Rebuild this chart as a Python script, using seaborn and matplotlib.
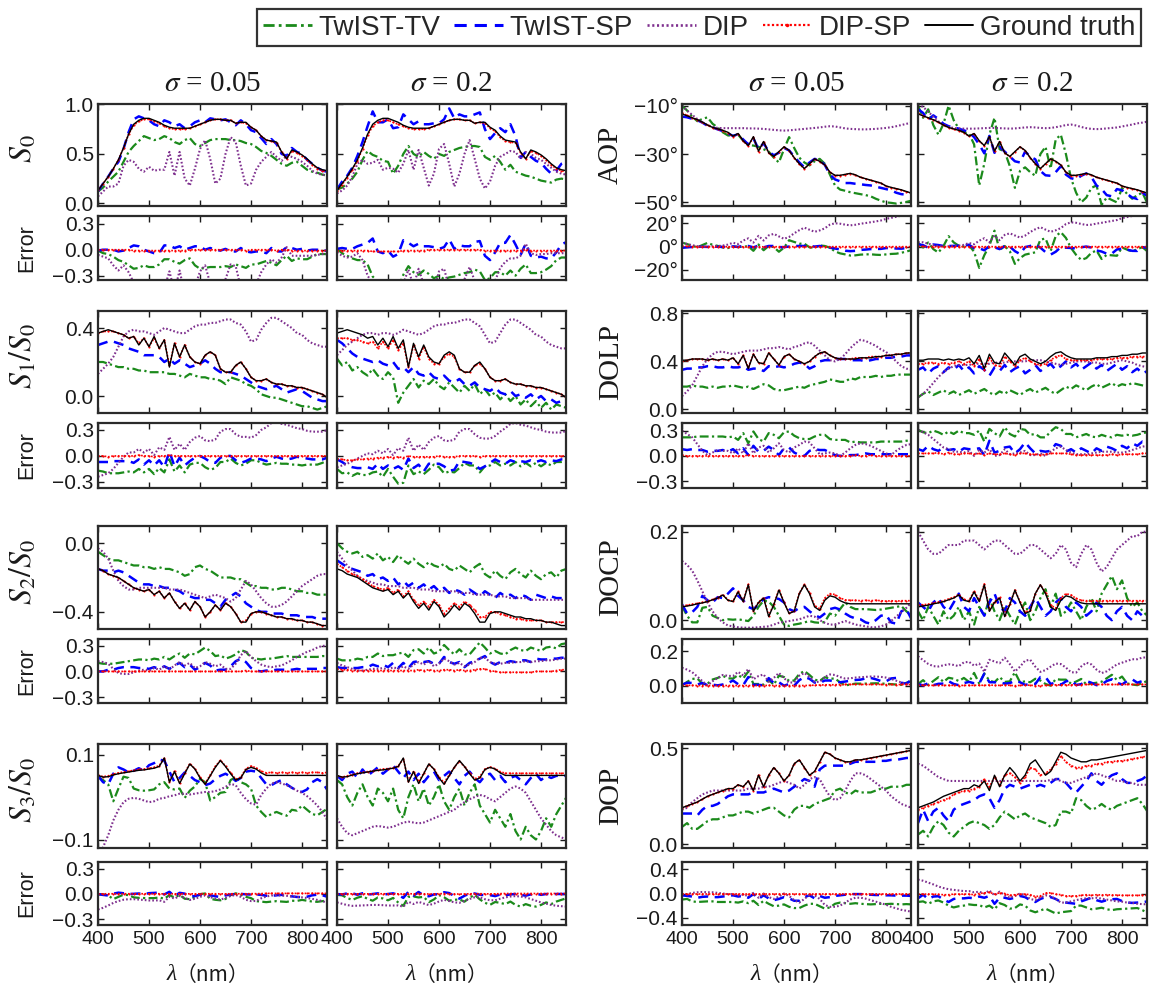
import numpy as np
import pandas as pd
import matplotlib
matplotlib.use("Agg")
import matplotlib.pyplot as plt
import seaborn as sns
from matplotlib.lines import Line2D
from matplotlib.ticker import FixedLocator, FuncFormatter, NullFormatter

sns.set_theme(style="white")
plt.rcParams["font.family"] = ["Liberation Sans", "Noto Sans CJK SC", "DejaVu Sans"]
plt.rcParams["mathtext.fontset"] = "stix"
plt.rcParams["axes.unicode_minus"] = True

# ---------------- data ----------------
wavelength = list(range(400, 851, 10))
methods = ["TwIST-TV", "TwIST-SP", "DIP", "DIP-SP", "Ground truth"]
sigma_labels = ["0.05", "0.2"]

gt_s0 = [0.13,0.20,0.27,0.35,0.44,0.56,0.70,0.80,0.84,0.86,
         0.86,0.84,0.82,0.79,0.77,0.76,0.76,0.76,0.76,0.78,
         0.80,0.82,0.84,0.85,0.85,0.84,0.84,0.81,0.82,0.82,
         0.77,0.74,0.68,0.64,0.63,0.62,0.52,0.45,0.54,0.52,
         0.49,0.45,0.40,0.36,0.34,0.33]
tv_s0_005 = [0.12,0.16,0.22,0.27,0.32,0.42,0.52,0.58,0.63,0.68,
             0.66,0.64,0.65,0.68,0.66,0.62,0.60,0.64,0.66,0.60,
             0.58,0.61,0.64,0.65,0.65,0.65,0.64,0.64,0.63,0.61,
             0.60,0.57,0.53,0.51,0.48,0.44,0.40,0.38,0.41,0.42,
             0.38,0.34,0.32,0.31,0.29,0.28]
sp_s0_005 = [0.12,0.20,0.27,0.35,0.42,0.55,0.72,0.85,0.88,0.86,
             0.84,0.80,0.78,0.84,0.82,0.78,0.80,0.76,0.78,0.82,
             0.84,0.82,0.86,0.85,0.84,0.85,0.82,0.79,0.84,0.80,
             0.74,0.72,0.66,0.60,0.65,0.60,0.50,0.48,0.56,0.52,
             0.50,0.44,0.40,0.36,0.33,0.32]
dip_s0_005 = [0.07,0.12,0.17,0.17,0.20,0.38,0.44,0.42,0.35,0.32,
              0.37,0.33,0.34,0.34,0.52,0.28,0.52,0.25,0.18,0.35,
              0.55,0.64,0.45,0.20,0.25,0.50,0.67,0.62,0.38,0.18,
              0.20,0.34,0.42,0.47,0.52,0.47,0.43,0.48,0.47,0.45,
              0.42,0.38,0.33,0.30,0.29,0.28]
dipsp_s0_005 = [0.13,0.20,0.27,0.35,0.44,0.56,0.70,0.79,0.83,0.85,
                0.85,0.83,0.81,0.78,0.76,0.75,0.75,0.75,0.76,0.78,
                0.80,0.82,0.84,0.85,0.85,0.84,0.84,0.81,0.82,0.81,
                0.77,0.74,0.68,0.64,0.63,0.61,0.52,0.45,0.53,0.51,
                0.48,0.44,0.39,0.35,0.33,0.32]
tv_s0_02 = [0.14,0.16,0.20,0.25,0.32,0.44,0.53,0.49,0.47,0.43,
            0.42,0.30,0.38,0.50,0.58,0.50,0.47,0.52,0.48,0.45,
            0.50,0.48,0.52,0.54,0.56,0.57,0.58,0.58,0.57,0.47,
            0.44,0.48,0.42,0.34,0.39,0.32,0.30,0.28,0.27,0.25,
            0.23,0.22,0.21,0.24,0.25,0.24]
sp_s0_02 = [0.14,0.22,0.28,0.36,0.48,0.62,0.78,0.93,0.82,0.82,
            0.85,0.76,0.77,0.90,0.85,0.80,0.83,0.80,0.80,0.81,
            0.81,0.85,0.96,0.86,0.90,0.88,0.88,0.90,0.92,0.75,
            0.65,0.71,0.76,0.72,0.80,0.68,0.46,0.52,0.47,0.43,
            0.41,0.35,0.30,0.33,0.40,0.42]
dip_s0_02 = [0.10,0.13,0.18,0.27,0.40,0.44,0.40,0.41,0.44,0.34,
             0.36,0.35,0.31,0.40,0.54,0.34,0.54,0.36,0.18,0.30,
             0.55,0.60,0.40,0.17,0.30,0.50,0.64,0.45,0.25,0.15,
             0.22,0.38,0.47,0.50,0.53,0.52,0.45,0.52,0.50,0.46,
             0.44,0.40,0.36,0.32,0.30,0.29]
dipsp_s0_02 = [0.12,0.19,0.26,0.34,0.43,0.55,0.69,0.78,0.82,0.84,
               0.84,0.82,0.80,0.78,0.76,0.75,0.75,0.75,0.76,0.78,
               0.80,0.82,0.84,0.85,0.85,0.84,0.84,0.81,0.82,0.81,
               0.76,0.73,0.67,0.63,0.62,0.61,0.51,0.45,0.53,0.51,
               0.48,0.44,0.39,0.35,0.33,0.32]

gt_s1 = [0.37,0.38,0.39,0.38,0.37,0.36,0.34,0.35,0.30,0.34,
         0.29,0.35,0.28,0.33,0.17,0.31,0.23,0.30,0.23,0.20,
         0.19,0.24,0.26,0.24,0.16,0.14,0.14,0.18,0.20,0.16,
         0.11,0.09,0.09,0.10,0.08,0.07,0.07,0.06,0.06,0.05,
         0.05,0.04,0.03,0.02,0.01,-0.01]
tv_s1_005 = [0.20,0.20,0.19,0.18,0.17,0.17,0.16,0.16,0.15,0.15,
             0.14,0.14,0.14,0.14,0.13,0.13,0.12,0.11,0.13,0.12,
             0.11,0.11,0.10,0.10,0.09,0.07,0.11,0.10,0.09,0.07,
             0.06,0.04,0.01,0.00,-0.01,-0.01,-0.02,-0.03,-0.04,-0.05,
             -0.06,-0.06,-0.07,-0.08,-0.07,-0.06]
sp_s1_005 = [0.30,0.31,0.32,0.32,0.31,0.30,0.28,0.27,0.26,0.24,
             0.24,0.24,0.23,0.20,0.22,0.19,0.21,0.19,0.17,0.18,
             0.19,0.21,0.19,0.16,0.14,0.14,0.14,0.13,0.12,0.10,
             0.08,0.06,0.05,0.04,0.05,0.06,0.04,0.02,0.03,0.04,
             0.03,0.01,-0.01,-0.02,-0.03,-0.03]
dip_s1_005 = [0.13,0.16,0.19,0.23,0.29,0.35,0.38,0.39,0.38,0.38,
              0.37,0.36,0.38,0.40,0.39,0.38,0.37,0.37,0.39,0.41,
              0.42,0.42,0.43,0.43,0.44,0.45,0.45,0.43,0.42,0.38,
              0.32,0.33,0.39,0.43,0.46,0.46,0.44,0.42,0.40,0.37,
              0.36,0.33,0.31,0.30,0.29,0.29]
dipsp_s1_005 = [0.37,0.38,0.38,0.38,0.37,0.36,0.34,0.35,0.31,0.34,
                0.29,0.34,0.28,0.33,0.18,0.31,0.23,0.30,0.23,0.20,
                0.19,0.24,0.26,0.24,0.16,0.14,0.14,0.18,0.20,0.16,
                0.11,0.09,0.09,0.10,0.08,0.07,0.07,0.06,0.06,0.05,
                0.05,0.04,0.03,0.02,0.01,-0.01]
tv_s1_02 = [0.22,0.18,0.20,0.15,0.17,0.14,0.12,0.16,0.12,0.10,
            0.14,0.11,-0.04,0.02,0.06,0.10,0.05,0.09,0.07,0.10,
            0.06,0.04,0.08,0.05,0.02,0.06,0.03,0.07,0.01,0.04,
            0.00,0.02,-0.02,0.01,-0.03,0.00,-0.05,-0.02,-0.06,-0.03,
            -0.07,-0.04,-0.08,-0.05,-0.06,-0.07]
sp_s1_02 = [0.33,0.31,0.28,0.25,0.23,0.22,0.21,0.20,0.21,0.19,
            0.18,0.20,0.16,0.17,0.14,0.17,0.13,0.12,0.14,0.11,
            0.10,0.12,0.09,0.08,0.10,0.07,0.06,0.08,0.05,0.04,
            0.03,0.05,0.02,0.01,0.03,0.00,0.01,-0.01,0.01,-0.02,
            0.00,-0.03,-0.02,-0.04,-0.03,-0.05]
dip_s1_02 = [0.24,0.27,0.30,0.32,0.34,0.36,0.37,0.37,0.36,0.37,
             0.37,0.36,0.37,0.39,0.38,0.37,0.36,0.37,0.39,0.41,
             0.42,0.42,0.43,0.43,0.44,0.45,0.45,0.43,0.41,0.36,
             0.31,0.32,0.37,0.42,0.45,0.45,0.43,0.41,0.39,0.36,
             0.35,0.32,0.30,0.29,0.28,0.28]
dipsp_s1_02 = [0.34,0.34,0.34,0.33,0.33,0.32,0.31,0.32,0.28,0.32,
               0.28,0.33,0.27,0.31,0.17,0.30,0.22,0.29,0.22,0.19,
               0.19,0.23,0.25,0.23,0.16,0.14,0.14,0.18,0.19,0.16,
               0.11,0.09,0.09,0.10,0.08,0.07,0.07,0.06,0.06,0.05,
               0.05,0.04,0.03,0.02,0.01,-0.01]

gt_s2 = [-0.15,-0.16,-0.18,-0.19,-0.20,-0.22,-0.24,-0.26,-0.27,-0.28,
         -0.27,-0.30,-0.28,-0.32,-0.29,-0.34,-0.38,-0.35,-0.39,-0.34,
         -0.37,-0.43,-0.40,-0.36,-0.39,-0.35,-0.37,-0.41,-0.46,-0.46,
         -0.41,-0.40,-0.40,-0.41,-0.42,-0.43,-0.43,-0.44,-0.44,-0.45,
         -0.45,-0.46,-0.46,-0.47,-0.48,-0.48]
tv_s2_005 = [-0.05,-0.07,-0.09,-0.10,-0.10,-0.11,-0.12,-0.13,-0.13,-0.14,
             -0.14,-0.15,-0.14,-0.15,-0.15,-0.16,-0.17,-0.19,-0.18,-0.14,
             -0.13,-0.15,-0.16,-0.18,-0.20,-0.20,-0.20,-0.21,-0.21,-0.23,
             -0.25,-0.25,-0.26,-0.26,-0.27,-0.27,-0.26,-0.26,-0.27,-0.28,
             -0.28,-0.29,-0.29,-0.30,-0.30,-0.30]
sp_s2_005 = [-0.15,-0.16,-0.16,-0.17,-0.16,-0.17,-0.19,-0.21,-0.23,-0.24,
             -0.24,-0.25,-0.25,-0.26,-0.26,-0.27,-0.28,-0.30,-0.31,-0.32,
             -0.32,-0.33,-0.33,-0.35,-0.37,-0.33,-0.31,-0.29,-0.31,-0.35,
             -0.37,-0.39,-0.40,-0.40,-0.41,-0.41,-0.41,-0.42,-0.42,-0.42,
             -0.43,-0.43,-0.43,-0.44,-0.44,-0.44]
dip_s2_005 = [-0.03,-0.05,-0.09,-0.16,-0.22,-0.25,-0.27,-0.27,-0.26,-0.26,
              -0.26,-0.26,-0.26,-0.26,-0.27,-0.27,-0.27,-0.28,-0.29,-0.30,
              -0.31,-0.32,-0.31,-0.30,-0.31,-0.32,-0.34,-0.32,-0.27,-0.22,
              -0.24,-0.28,-0.32,-0.35,-0.37,-0.37,-0.36,-0.34,-0.31,-0.28,
              -0.25,-0.23,-0.21,-0.19,-0.18,-0.18]
dipsp_s2_005 = [-0.15,-0.16,-0.18,-0.19,-0.20,-0.22,-0.24,-0.26,-0.27,-0.28,
                -0.27,-0.30,-0.28,-0.32,-0.29,-0.34,-0.38,-0.35,-0.39,-0.34,
                -0.37,-0.43,-0.40,-0.36,-0.39,-0.35,-0.37,-0.41,-0.46,-0.45,
                -0.41,-0.40,-0.40,-0.41,-0.42,-0.43,-0.43,-0.44,-0.44,-0.45,
                -0.45,-0.46,-0.46,-0.47,-0.48,-0.48]
tv_s2_02 = [0.00,-0.03,-0.05,-0.06,-0.05,-0.08,-0.07,-0.09,-0.06,-0.10,
            -0.08,-0.11,-0.07,-0.10,-0.12,-0.09,-0.12,-0.14,-0.11,-0.13,
            -0.14,-0.12,-0.15,-0.16,-0.13,-0.15,-0.17,-0.14,-0.12,-0.18,
            -0.20,-0.16,-0.19,-0.21,-0.17,-0.15,-0.18,-0.20,-0.16,-0.19,
            -0.21,-0.18,-0.17,-0.20,-0.16,-0.15]
sp_s2_02 = [-0.10,-0.12,-0.14,-0.15,-0.16,-0.17,-0.19,-0.18,-0.21,-0.20,
            -0.22,-0.20,-0.24,-0.22,-0.25,-0.23,-0.26,-0.24,-0.27,-0.25,
            -0.28,-0.26,-0.29,-0.27,-0.28,-0.30,-0.27,-0.29,-0.31,-0.28,
            -0.30,-0.32,-0.29,-0.31,-0.30,-0.32,-0.30,-0.31,-0.33,-0.30,
            -0.31,-0.32,-0.31,-0.32,-0.32,-0.32]
dip_s2_02 = [-0.05,-0.09,-0.13,-0.16,-0.19,-0.21,-0.22,-0.23,-0.24,-0.24,
             -0.25,-0.25,-0.25,-0.26,-0.26,-0.26,-0.27,-0.27,-0.27,-0.28,
             -0.28,-0.28,-0.28,-0.28,-0.29,-0.29,-0.29,-0.30,-0.30,-0.30,
             -0.30,-0.31,-0.31,-0.31,-0.32,-0.32,-0.32,-0.32,-0.33,-0.33,
             -0.33,-0.33,-0.33,-0.33,-0.33,-0.33]
dipsp_s2_02 = [-0.12,-0.14,-0.16,-0.18,-0.19,-0.21,-0.23,-0.25,-0.26,-0.27,
               -0.26,-0.29,-0.27,-0.31,-0.28,-0.33,-0.36,-0.34,-0.37,-0.33,
               -0.36,-0.41,-0.38,-0.35,-0.37,-0.34,-0.36,-0.39,-0.43,-0.43,
               -0.40,-0.40,-0.41,-0.42,-0.43,-0.44,-0.44,-0.45,-0.45,-0.45,
               -0.45,-0.46,-0.46,-0.46,-0.46,-0.46]

gt_s3 = [0.051,0.047,0.048,0.052,0.055,0.057,0.059,0.061,0.063,0.064,
         0.066,0.068,0.072,0.092,0.035,0.060,0.032,0.055,0.078,0.066,
         0.045,0.030,0.050,0.070,0.086,0.072,0.055,0.040,0.045,0.065,
         0.070,0.066,0.057,0.051,0.051,0.051,0.051,0.051,0.051,0.051,
         0.051,0.051,0.051,0.051,0.051,0.051]
tv_s3_005 = [0.047,0.040,0.030,-0.010,0.020,0.048,0.045,0.020,0.016,0.015,
             0.016,0.018,0.030,0.035,0.020,0.018,0.020,-0.002,0.015,0.025,
             0.043,0.035,-0.008,0.000,0.010,0.012,0.040,0.047,0.035,0.030,
             0.020,-0.020,-0.035,-0.047,-0.040,-0.035,-0.040,-0.044,-0.030,-0.032,
             -0.020,-0.030,-0.040,-0.043,-0.035,-0.027]
sp_s3_005 = [0.050,0.035,0.030,0.055,0.070,0.065,0.058,0.062,0.068,0.062,
             0.075,0.080,0.088,0.086,0.060,0.035,0.045,0.058,0.050,0.040,
             0.035,0.028,0.032,0.042,0.050,0.055,0.048,0.038,0.045,0.060,
             0.062,0.060,0.045,0.030,0.028,0.035,0.040,0.030,0.022,0.015,
             0.012,0.018,0.035,0.042,0.035,0.016]
dip_s3_005 = [-0.135,-0.118,-0.090,-0.055,-0.030,-0.012,-0.004,-0.002,-0.004,-0.008,
              -0.012,-0.010,-0.004,-0.002,0.002,0.004,0.008,0.008,0.006,0.008,
              0.010,0.012,0.012,0.014,0.018,0.024,0.031,0.028,0.010,-0.005,
              -0.015,-0.018,0.005,0.020,0.032,0.035,0.032,0.028,0.022,0.015,
              0.010,0.002,-0.008,-0.020,-0.035,-0.055]
dipsp_s3_005 = [0.052,0.048,0.050,0.054,0.057,0.059,0.061,0.063,0.065,0.066,
                0.068,0.070,0.074,0.092,0.036,0.061,0.034,0.057,0.079,0.067,
                0.047,0.032,0.052,0.072,0.087,0.073,0.057,0.042,0.047,0.067,
                0.073,0.069,0.061,0.057,0.058,0.057,0.058,0.057,0.058,0.057,
                0.058,0.057,0.058,0.058,0.057,0.058]
tv_s3_02 = [0.040,0.030,0.000,-0.020,0.010,0.030,0.000,-0.020,0.020,0.010,
            -0.010,0.020,-0.030,-0.050,0.000,0.030,-0.010,0.020,-0.020,0.000,
            0.030,-0.010,-0.030,0.000,0.020,-0.020,0.010,0.030,-0.020,-0.040,
            -0.060,-0.030,-0.050,-0.070,-0.040,-0.080,-0.100,-0.070,-0.090,-0.100,
            -0.080,-0.050,-0.070,-0.040,-0.020,0.000]
sp_s3_02 = [0.050,0.040,0.055,0.060,0.045,0.065,0.050,0.060,0.070,0.055,
            0.065,0.075,0.060,0.045,0.060,0.040,0.055,0.035,0.050,0.060,
            0.040,0.050,0.060,0.045,0.030,0.050,0.060,0.045,0.035,0.050,
            0.055,0.040,0.050,0.035,0.045,0.050,0.040,0.030,0.045,0.055,
            0.040,0.050,0.045,0.050,0.050,0.050]
dip_s3_02 = [-0.050,-0.070,-0.085,-0.090,-0.085,-0.080,-0.075,-0.070,-0.068,-0.070,
             -0.072,-0.070,-0.065,-0.060,-0.058,-0.060,-0.062,-0.060,-0.055,-0.050,
             -0.045,-0.040,-0.035,-0.030,-0.020,-0.012,-0.005,0.000,0.005,0.002,
             -0.005,-0.010,0.000,0.010,0.020,0.025,0.020,0.010,-0.010,-0.030,
             -0.050,-0.065,-0.080,-0.090,-0.095,-0.100]
dipsp_s3_02 = [0.050,0.047,0.050,0.053,0.056,0.058,0.060,0.062,0.064,0.066,
               0.067,0.069,0.073,0.090,0.038,0.060,0.036,0.056,0.077,0.066,
               0.047,0.034,0.052,0.070,0.084,0.071,0.056,0.043,0.048,0.066,
               0.071,0.067,0.060,0.056,0.056,0.056,0.056,0.056,0.056,0.056,
               0.056,0.056,0.056,0.056,0.056,0.056]

gt_aop = [-13.4,-14.2,-15.0,-15.8,-16.8,-18.0,-19.0,-19.6,-20.2,-21.0,
          -22.6,-21.5,-24.5,-26.5,-22.8,-28.8,-24.8,-29.5,-31.0,-29.0,
          -27.0,-28.5,-31.5,-34.0,-36.0,-34.0,-32.0,-33.0,-34.5,-37.5,
          -38.8,-38.8,-38.4,-38.0,-38.6,-39.6,-40.2,-40.8,-41.4,-42.0,
          -43.2,-43.8,-44.3,-44.8,-45.5,-46.2]
tv_aop_005 = [-10.0,-12.0,-14.5,-16.4,-15.5,-14.8,-17.5,-19.0,-21.0,-22.3,
              -22.5,-22.0,-24.5,-26.3,-26.5,-27.0,-28.0,-29.0,-31.5,-33.5,
              -28.0,-23.0,-27.5,-31.5,-33.5,-34.7,-33.0,-32.0,-34.0,-38.5,
              -43.0,-44.7,-45.2,-45.8,-46.2,-46.6,-47.0,-47.5,-48.5,-49.3,
              -50.0,-50.2,-50.5,-50.2,-49.8,-49.3]
sp_aop_005 = [-14.5,-14.8,-15.4,-16.0,-17.0,-18.3,-19.0,-19.8,-20.5,-21.5,
              -22.5,-21.8,-24.0,-26.0,-23.5,-28.0,-25.5,-29.0,-30.5,-29.5,
              -27.5,-28.5,-31.0,-33.5,-35.5,-33.5,-32.0,-32.5,-34.5,-38.5,
              -40.5,-41.3,-42.0,-42.0,-42.3,-42.5,-42.8,-43.0,-43.5,-44.0,
              -44.5,-45.0,-46.0,-46.6,-46.8,-47.0]
dip_aop_005 = [-10.0,-12.0,-13.8,-15.5,-17.0,-18.0,-18.8,-19.2,-19.3,-19.3,
               -19.3,-19.3,-19.3,-19.4,-19.4,-19.5,-19.6,-19.8,-20.0,-20.2,
               -20.3,-20.2,-20.0,-19.8,-19.6,-19.4,-19.2,-19.0,-18.7,-18.5,
               -18.6,-19.0,-19.4,-19.6,-19.7,-19.8,-19.8,-19.7,-19.6,-19.4,
               -19.2,-18.9,-18.5,-18.0,-17.5,-17.0]
dipsp_aop_005 = [-13.0,-14.0,-15.0,-15.9,-16.9,-18.1,-19.1,-19.7,-20.3,-21.2,
                 -22.8,-21.6,-24.7,-26.7,-23.0,-29.0,-25.0,-29.6,-31.2,-29.1,
                 -27.2,-28.6,-31.6,-34.2,-36.1,-34.1,-32.1,-33.1,-34.6,-37.6,
                 -38.9,-38.9,-38.5,-38.1,-38.7,-39.7,-40.3,-40.9,-41.5,-42.1,
                 -43.3,-43.9,-44.4,-44.9,-45.6,-46.3]
tv_aop_02 = [-10.0,-15.0,-11.5,-18.0,-22.0,-17.5,-10.0,-16.0,-19.5,-21.0,
             -21.5,-26.0,-43.0,-34.0,-22.0,-15.0,-28.0,-29.0,-35.0,-44.0,
             -37.0,-35.5,-37.5,-39.0,-30.0,-27.0,-36.0,-24.0,-22.0,-30.0,
             -40.0,-46.0,-50.0,-48.0,-44.0,-43.0,-51.0,-48.0,-49.0,-50.0,
             -44.0,-46.5,-48.5,-47.0,-46.0,-50.5]
sp_aop_02 = [-11.4,-13.0,-16.0,-14.0,-15.5,-17.5,-18.5,-19.0,-19.5,-20.2,
             -21.0,-23.0,-26.0,-29.7,-22.5,-29.5,-27.0,-29.0,-31.0,-33.0,
             -33.5,-29.0,-31.0,-32.2,-37.0,-38.8,-39.0,-37.5,-35.0,-38.5,
             -40.0,-40.5,-39.0,-38.0,-39.5,-43.0,-44.5,-47.0,-47.5,-44.5,
             -45.0,-46.5,-48.0,-48.6,-46.0,-47.4]
dip_aop_02 = [-9.5,-10.5,-12.5,-14.5,-16.5,-18.0,-18.8,-19.2,-19.4,-19.5,
              -19.5,-19.5,-19.4,-19.3,-19.2,-19.2,-19.3,-19.4,-19.5,-19.4,
              -19.2,-19.0,-18.9,-19.0,-19.2,-19.3,-19.2,-18.9,-18.5,-18.0,
              -17.8,-18.2,-18.8,-19.3,-19.6,-19.7,-19.6,-19.4,-19.2,-19.0,
              -18.6,-18.2,-17.8,-17.3,-17.0,-16.6]
dipsp_aop_02 = [-13.2,-14.1,-15.1,-15.9,-16.9,-18.1,-19.1,-19.7,-20.3,-21.1,
                -22.7,-21.6,-24.6,-26.6,-22.9,-28.9,-24.9,-29.6,-31.1,-29.1,
                -27.1,-28.6,-31.6,-34.1,-36.1,-34.1,-32.1,-33.1,-34.6,-37.6,
                -38.9,-38.9,-38.5,-38.1,-38.7,-39.7,-40.3,-40.9,-41.5,-42.1,
                -43.3,-43.9,-44.4,-44.9,-45.6,-46.3]

gt_dolp = [0.41,0.41,0.42,0.42,0.42,0.41,0.42,0.41,0.42,0.41,
           0.43,0.38,0.45,0.34,0.46,0.39,0.38,0.47,0.42,0.37,
           0.44,0.46,0.42,0.40,0.38,0.40,0.44,0.47,0.48,0.45,
           0.43,0.42,0.42,0.42,0.42,0.43,0.43,0.43,0.44,0.44,
           0.45,0.45,0.46,0.46,0.47,0.47]
tv_dolp_005 = [0.19,0.19,0.20,0.19,0.19,0.18,0.19,0.18,0.19,0.19,
               0.20,0.19,0.18,0.19,0.17,0.19,0.21,0.20,0.17,0.16,
               0.16,0.17,0.18,0.19,0.18,0.20,0.21,0.22,0.23,0.25,
               0.24,0.23,0.23,0.26,0.25,0.27,0.27,0.27,0.28,0.27,
               0.28,0.28,0.29,0.29,0.29,0.29]
sp_dolp_005 = [0.33,0.34,0.34,0.35,0.35,0.36,0.36,0.35,0.35,0.36,
               0.35,0.35,0.36,0.33,0.34,0.34,0.32,0.36,0.35,0.36,
               0.35,0.36,0.38,0.39,0.38,0.34,0.36,0.40,0.41,0.41,
               0.42,0.42,0.42,0.41,0.41,0.41,0.40,0.41,0.42,0.42,
               0.43,0.43,0.44,0.44,0.45,0.45]
dip_dolp_005 = [0.11,0.15,0.20,0.28,0.36,0.42,0.46,0.48,0.48,0.47,
                0.46,0.47,0.48,0.49,0.49,0.49,0.50,0.51,0.51,0.52,
                0.51,0.50,0.52,0.53,0.55,0.56,0.53,0.49,0.45,0.41,
                0.40,0.42,0.46,0.51,0.55,0.58,0.57,0.55,0.53,0.50,
                0.48,0.44,0.40,0.36,0.34,0.33]
dipsp_dolp_005 = [0.40,0.41,0.42,0.42,0.42,0.41,0.42,0.41,0.42,0.41,
                  0.43,0.38,0.45,0.35,0.46,0.39,0.38,0.47,0.42,0.37,
                  0.44,0.46,0.42,0.40,0.38,0.40,0.44,0.47,0.48,0.45,
                  0.43,0.42,0.42,0.42,0.43,0.43,0.43,0.44,0.44,0.44,
                  0.45,0.45,0.46,0.46,0.47,0.47]
tv_dolp_02 = [0.10,0.13,0.15,0.12,0.14,0.16,0.13,0.15,0.12,0.14,
              0.16,0.13,0.15,0.17,0.14,0.12,0.15,0.13,0.16,0.14,
              0.12,0.15,0.17,0.14,0.16,0.18,0.15,0.13,0.16,0.19,
              0.17,0.20,0.18,0.16,0.19,0.21,0.18,0.20,0.22,0.19,
              0.21,0.20,0.22,0.21,0.20,0.19]
sp_dolp_02 = [0.33,0.35,0.30,0.34,0.36,0.31,0.35,0.33,0.37,0.32,
              0.35,0.30,0.36,0.33,0.28,0.35,0.32,0.37,0.31,0.34,
              0.36,0.30,0.33,0.37,0.32,0.35,0.38,0.33,0.36,0.40,
              0.35,0.38,0.33,0.36,0.39,0.34,0.37,0.32,0.35,0.38,
              0.33,0.36,0.31,0.34,0.30,0.32]
dip_dolp_02 = [0.10,0.13,0.17,0.22,0.27,0.31,0.34,0.36,0.37,0.37,
               0.37,0.38,0.38,0.38,0.38,0.39,0.39,0.39,0.40,0.40,
               0.40,0.40,0.41,0.41,0.41,0.40,0.39,0.38,0.37,0.38,
               0.39,0.40,0.40,0.40,0.39,0.39,0.38,0.38,0.39,0.40,
               0.41,0.40,0.39,0.37,0.36,0.35]
dipsp_dolp_02 = [0.38,0.38,0.39,0.39,0.38,0.39,0.38,0.39,0.40,0.38,
                 0.40,0.36,0.42,0.33,0.43,0.37,0.36,0.44,0.40,0.36,
                 0.41,0.43,0.40,0.38,0.37,0.38,0.41,0.44,0.45,0.42,
                 0.41,0.41,0.41,0.41,0.41,0.42,0.42,0.42,0.42,0.43,
                 0.43,0.43,0.44,0.44,0.44,0.44]

gt_docp = [0.030,0.032,0.034,0.037,0.039,0.042,0.046,0.050,0.057,0.045,
           0.042,0.064,0.042,0.080,0.020,0.040,0.050,0.008,0.035,0.068,
           0.040,0.015,0.020,0.060,0.080,0.060,0.030,0.022,0.045,0.055,
           0.052,0.044,0.039,0.037,0.037,0.037,0.037,0.037,0.037,0.037,
           0.037,0.037,0.037,0.037,0.037,0.037]
tv_docp_005 = [0.032,0.010,-0.005,-0.005,0.028,0.030,0.010,0.005,0.000,0.002,
               0.001,0.002,0.000,-0.002,0.010,0.030,0.044,0.042,0.030,0.010,
               -0.010,-0.013,-0.010,-0.008,-0.005,-0.002,-0.005,-0.006,-0.004,0.015,
               0.010,0.025,0.040,0.030,0.025,0.025,0.025,0.024,0.023,0.024,
               0.026,0.028,0.030,0.032,0.020,0.010]
sp_docp_005 = [0.036,0.015,0.018,0.030,0.055,0.045,0.040,0.052,0.050,0.060,
               0.072,0.055,0.045,0.030,0.025,0.035,0.048,0.052,0.050,0.048,
               0.040,0.025,0.020,0.028,0.030,0.020,0.012,0.006,0.015,0.025,
               0.028,0.024,0.015,0.008,0.004,0.002,-0.005,-0.008,0.000,0.010,
               0.012,-0.005,-0.008,0.020,0.025,0.002]
dip_docp_005 = [0.134,0.125,0.112,0.090,0.065,0.040,0.020,0.005,-0.005,-0.012,
                -0.014,-0.016,-0.017,-0.017,-0.017,-0.016,-0.015,-0.014,-0.010,-0.006,
                -0.004,-0.002,0.000,0.002,0.006,0.010,0.008,0.000,-0.006,-0.010,
                -0.010,-0.006,-0.002,-0.006,-0.010,-0.012,-0.014,-0.016,-0.016,-0.014,
                -0.010,-0.002,0.008,0.018,0.028,0.040]
dipsp_docp_005 = [0.032,0.034,0.036,0.038,0.040,0.043,0.047,0.051,0.058,0.046,
                  0.043,0.065,0.043,0.081,0.021,0.041,0.051,0.010,0.036,0.069,
                  0.041,0.016,0.021,0.061,0.081,0.062,0.033,0.026,0.050,0.060,
                  0.058,0.050,0.046,0.045,0.045,0.044,0.045,0.044,0.045,0.044,
                  0.043,0.044,0.043,0.044,0.044,0.044]
tv_docp_02 = [0.020,0.000,0.030,0.010,-0.010,0.020,0.000,0.010,0.030,0.000,
              0.020,-0.010,0.030,0.010,0.050,0.020,0.000,0.030,0.010,-0.010,
              0.020,0.040,0.000,0.020,0.050,0.070,0.030,0.060,0.010,0.020,
              0.040,0.020,0.000,0.030,0.050,0.020,0.060,0.080,0.100,0.070,
              0.090,0.050,0.030,0.040,0.020,0.010]
sp_docp_02 = [0.040,0.030,0.020,0.040,0.050,0.030,0.020,0.040,0.060,0.030,
              0.020,0.050,0.030,0.010,0.040,0.060,0.030,0.020,0.050,0.040,
              0.020,0.010,0.030,0.050,0.030,0.010,0.020,0.040,0.050,0.030,
              0.020,0.040,0.030,0.010,0.020,0.040,0.030,0.010,0.000,0.020,
              0.030,0.010,0.000,0.020,0.010,0.000]
dip_docp_02 = [0.200,0.180,0.160,0.150,0.150,0.160,0.170,0.170,0.170,0.180,
               0.180,0.180,0.170,0.160,0.170,0.180,0.180,0.170,0.160,0.150,
               0.150,0.160,0.170,0.170,0.160,0.150,0.140,0.150,0.170,0.160,
               0.130,0.120,0.150,0.170,0.160,0.130,0.110,0.120,0.140,0.160,
               0.170,0.180,0.190,0.190,0.200,0.200]
dipsp_docp_02 = [0.034,0.035,0.036,0.039,0.041,0.044,0.048,0.052,0.058,0.047,
                 0.044,0.066,0.045,0.082,0.024,0.042,0.052,0.012,0.037,0.068,
                 0.042,0.018,0.023,0.060,0.080,0.062,0.034,0.027,0.050,0.060,
                 0.057,0.049,0.045,0.044,0.044,0.044,0.044,0.044,0.044,0.044,
                 0.044,0.044,0.044,0.044,0.044,0.044]

gt_dop = [0.19,0.20,0.21,0.22,0.235,0.25,0.26,0.27,0.28,0.29,
          0.29,0.31,0.30,0.33,0.28,0.36,0.30,0.36,0.40,0.37,
          0.33,0.36,0.42,0.44,0.40,0.36,0.38,0.43,0.48,0.47,
          0.45,0.44,0.43,0.43,0.44,0.44,0.445,0.45,0.455,0.46,
          0.465,0.47,0.475,0.48,0.485,0.49]
tv_dop_005 = [0.09,0.11,0.08,0.08,0.10,0.12,0.13,0.13,0.14,0.15,
              0.15,0.16,0.17,0.17,0.16,0.17,0.18,0.19,0.19,0.17,
              0.15,0.14,0.18,0.20,0.20,0.19,0.21,0.22,0.23,0.24,
              0.28,0.29,0.27,0.26,0.28,0.27,0.27,0.27,0.28,0.29,
              0.29,0.30,0.30,0.30,0.31,0.31]
sp_dop_005 = [0.16,0.16,0.16,0.15,0.18,0.20,0.20,0.21,0.23,0.25,
              0.26,0.26,0.26,0.26,0.27,0.27,0.27,0.28,0.29,0.28,
              0.27,0.28,0.30,0.32,0.34,0.33,0.30,0.39,0.41,0.41,
              0.41,0.41,0.41,0.42,0.43,0.43,0.43,0.43,0.43,0.435,
              0.435,0.44,0.44,0.445,0.45,0.45]
dip_dop_005 = [0.18,0.19,0.22,0.24,0.26,0.27,0.28,0.28,0.28,0.28,
               0.28,0.28,0.28,0.29,0.29,0.29,0.30,0.30,0.31,0.32,
               0.33,0.32,0.31,0.29,0.31,0.34,0.35,0.34,0.29,0.25,
               0.23,0.24,0.28,0.33,0.37,0.37,0.36,0.34,0.32,0.30,
               0.28,0.25,0.23,0.21,0.20,0.19]
dipsp_dop_005 = [0.19,0.20,0.21,0.22,0.235,0.25,0.26,0.27,0.28,0.29,
                 0.29,0.31,0.30,0.33,0.28,0.36,0.30,0.36,0.40,0.37,
                 0.33,0.36,0.42,0.44,0.40,0.36,0.38,0.43,0.48,0.47,
                 0.45,0.44,0.43,0.43,0.44,0.44,0.445,0.45,0.455,0.46,
                 0.465,0.47,0.475,0.48,0.485,0.49]
tv_dop_02 = [0.05,0.07,0.04,0.09,0.12,0.10,0.06,0.04,0.07,0.09,
             0.11,0.12,0.11,0.10,0.08,0.10,0.14,0.17,0.15,0.13,
             0.15,0.16,0.14,0.13,0.12,0.11,0.09,0.10,0.17,0.17,
             0.16,0.24,0.23,0.20,0.18,0.19,0.21,0.19,0.18,0.20,
             0.21,0.22,0.23,0.24,0.21,0.17]
sp_dop_02 = [0.11,0.18,0.12,0.17,0.19,0.15,0.12,0.18,0.20,0.21,
             0.22,0.23,0.25,0.26,0.24,0.19,0.23,0.29,0.31,0.30,
             0.29,0.30,0.31,0.30,0.31,0.30,0.32,0.34,0.34,0.32,
             0.29,0.27,0.30,0.33,0.37,0.33,0.31,0.34,0.36,0.37,
             0.34,0.32,0.32,0.33,0.34,0.36]
dip_dop_02 = [0.42,0.41,0.39,0.37,0.35,0.34,0.33,0.33,0.33,0.33,
              0.33,0.33,0.33,0.33,0.33,0.33,0.33,0.33,0.33,0.33,
              0.33,0.33,0.33,0.33,0.33,0.33,0.335,0.34,0.33,0.32,
              0.32,0.33,0.34,0.35,0.36,0.37,0.36,0.35,0.34,0.33,
              0.33,0.32,0.32,0.31,0.31,0.31]
dipsp_dop_02 = [0.18,0.19,0.20,0.21,0.22,0.23,0.24,0.26,0.27,0.28,
                0.28,0.29,0.30,0.34,0.30,0.35,0.31,0.36,0.37,0.35,
                0.32,0.35,0.40,0.39,0.36,0.37,0.39,0.42,0.46,0.43,
                0.41,0.40,0.40,0.41,0.41,0.42,0.42,0.43,0.43,0.435,
                0.435,0.44,0.445,0.45,0.455,0.46]

# ---------------- organisation ----------------
series = {
    ("S0", "0.05"): [tv_s0_005, sp_s0_005, dip_s0_005, dipsp_s0_005, gt_s0],
    ("S0", "0.2"): [tv_s0_02, sp_s0_02, dip_s0_02, dipsp_s0_02, gt_s0],
    ("S1", "0.05"): [tv_s1_005, sp_s1_005, dip_s1_005, dipsp_s1_005, gt_s1],
    ("S1", "0.2"): [tv_s1_02, sp_s1_02, dip_s1_02, dipsp_s1_02, gt_s1],
    ("S2", "0.05"): [tv_s2_005, sp_s2_005, dip_s2_005, dipsp_s2_005, gt_s2],
    ("S2", "0.2"): [tv_s2_02, sp_s2_02, dip_s2_02, dipsp_s2_02, gt_s2],
    ("S3", "0.05"): [tv_s3_005, sp_s3_005, dip_s3_005, dipsp_s3_005, gt_s3],
    ("S3", "0.2"): [tv_s3_02, sp_s3_02, dip_s3_02, dipsp_s3_02, gt_s3],
    ("AOP", "0.05"): [tv_aop_005, sp_aop_005, dip_aop_005, dipsp_aop_005, gt_aop],
    ("AOP", "0.2"): [tv_aop_02, sp_aop_02, dip_aop_02, dipsp_aop_02, gt_aop],
    ("DOLP", "0.05"): [tv_dolp_005, sp_dolp_005, dip_dolp_005, dipsp_dolp_005, gt_dolp],
    ("DOLP", "0.2"): [tv_dolp_02, sp_dolp_02, dip_dolp_02, dipsp_dolp_02, gt_dolp],
    ("DOCP", "0.05"): [tv_docp_005, sp_docp_005, dip_docp_005, dipsp_docp_005, gt_docp],
    ("DOCP", "0.2"): [tv_docp_02, sp_docp_02, dip_docp_02, dipsp_docp_02, gt_docp],
    ("DOP", "0.05"): [tv_dop_005, sp_dop_005, dip_dop_005, dipsp_dop_005, gt_dop],
    ("DOP", "0.2"): [tv_dop_02, sp_dop_02, dip_dop_02, dipsp_dop_02, gt_dop],
}
for k, v in series.items():
    for arr in v:
        assert len(arr) == len(wavelength), (k, len(arr))

error_abs = {"DOLP", "DOCP"}

ylabels = {"S0": r"$S_0$", "S1": r"$S_1/S_0$", "S2": r"$S_2/S_0$", "S3": r"$S_3/S_0$",
           "AOP": "AOP", "DOLP": "DOLP", "DOCP": "DOCP", "DOP": "DOP"}
main_ylim = {"S0": (-0.027, 1.005), "S1": (-0.1, 0.5), "S2": (-0.5, 0.1), "S3": (-0.12, 0.125),
             "AOP": (-51.5, -9.3), "DOLP": (-0.03, 0.82), "DOCP": (-0.02, 0.213), "DOP": (-0.02, 0.523)}
main_yticks = {"S0": [0.0, 0.5, 1.0], "S1": [0.0, 0.4], "S2": [-0.4, 0.0], "S3": [-0.1, 0.1],
               "AOP": [-50, -30, -10], "DOLP": [0.0, 0.4, 0.8], "DOCP": [0.0, 0.2], "DOP": [0.0, 0.5]}
err_ylim = {"S0": (-0.35, 0.39), "S1": (-0.37, 0.38), "S2": (-0.37, 0.38), "S3": (-0.37, 0.38),
            "AOP": (-29, 26.5), "DOLP": (-0.38, 0.39), "DOCP": (-0.1, 0.27), "DOP": (-0.52, 0.52)}
err_yticks = {"S0": [-0.3, 0.0, 0.3], "S1": [-0.3, 0.0, 0.3], "S2": [-0.3, 0.0, 0.3],
              "S3": [-0.3, 0.0, 0.3], "AOP": [-20, 0, 20], "DOLP": [-0.3, 0.0, 0.3],
              "DOCP": [0.0, 0.2], "DOP": [-0.4, 0.0, 0.4]}

W, H = 1156, 993
fig = plt.figure(figsize=(W / 100, H / 100), dpi=100)

cols = [(98, 327), (337, 566), (682, 911), (918, 1147)]
rows = [((104, 206), (216, 280)), ((311, 413), (423, 488)),
        ((526, 629), (639, 703)), ((744, 848), (862, 925))]
left_q = ["S0", "S1", "S2", "S3"]
right_q = ["AOP", "DOLP", "DOCP", "DOP"]

STY = {
    "TwIST-TV": dict(color="#1b8a1b", lw=1.6, dashes=(4.0, 1.5, 1.0, 1.5), marker=None, ms=0),
    "TwIST-SP": dict(color="#0000ff", lw=1.8, dashes=(4.0, 2.6), marker=None, ms=0),
    "DIP": dict(color="#7e2f8e", lw=1.5, dashes=(0.8, 1.0), marker=None, ms=0),
    "DIP-SP": dict(color="#ff0000", lw=1.2, dashes=(1.0, 1.0), marker=".", ms=3),
    "Ground truth": dict(color="black", lw=1.0, dashes=None, marker=None, ms=0),
}
YTICK_FS = 15
XTICK_FS = 14
TXT = "#1a1a1a"


def rect(x0, x1, y0, y1):
    return [x0 / W, 1 - y1 / H, (x1 - x0) / W, (y1 - y0) / H]


def fmt_num(v, _=None):
    return f"{v:.1f}".replace("-", "\u2212")


def fmt_deg(v, _=None):
    return f"{v:.0f}\u00b0".replace("-", "\u2212")


def draw(ax, ys, names):
    for y, name in zip(ys, names):
        st = STY[name]
        df = pd.DataFrame({"wl": wavelength, "v": y})
        kw = dict(color=st["color"], linewidth=st["lw"])
        if st["marker"]:
            kw.update(marker=st["marker"], markersize=st["ms"], markeredgewidth=0)
        sns.lineplot(data=df, x="wl", y="v", ax=ax, legend=False, errorbar=None, **kw)
        ln = ax.lines[-1]
        if st["dashes"] is not None:
            ln.set_dashes(st["dashes"])


def style_ax(ax, xlabels, ylabels_on, q, err):
    ax.set_xlim(400, 849)
    ax.xaxis.set_major_locator(FixedLocator([400, 500, 600, 700, 800]))
    if err:
        ax.set_ylim(*err_ylim[q])
        ax.yaxis.set_major_locator(FixedLocator(err_yticks[q]))
    else:
        ax.set_ylim(*main_ylim[q])
        ax.yaxis.set_major_locator(FixedLocator(main_yticks[q]))
    if ylabels_on:
        ax.yaxis.set_major_formatter(FuncFormatter(fmt_deg if q == "AOP" else fmt_num))
    else:
        ax.yaxis.set_major_formatter(NullFormatter())
    if xlabels:
        ax.xaxis.set_major_formatter(FuncFormatter(lambda v, _: f"{v:.0f}"))
    else:
        ax.xaxis.set_major_formatter(NullFormatter())
    ax.set_xlabel("")
    ax.set_ylabel("")
    ax.tick_params(direction="in", length=4, width=1.0, top=True, right=True,
                   bottom=True, left=True, pad=3, colors=TXT)
    ax.tick_params(axis="y", labelsize=YTICK_FS)
    ax.tick_params(axis="x", labelsize=XTICK_FS, pad=4)
    for s in ax.spines.values():
        s.set_color("#2b2b2b")
        s.set_linewidth(1.6)
    ax.set_facecolor("white")


for gi, qs in enumerate([left_q, right_q]):
    for ri, q in enumerate(qs):
        (my0, my1), (ey0, ey1) = rows[ri]
        for ci in range(2):
            sig = sigma_labels[ci]
            x0, x1 = cols[gi * 2 + ci]
            ys = series[(q, sig)]
            gt = np.array(ys[4])
            axm = fig.add_axes(rect(x0, x1, my0, my1))
            draw(axm, ys, methods)
            style_ax(axm, False, ci == 0, q, False)
            axe = fig.add_axes(rect(x0, x1, ey0, ey1))
            errs = []
            for i in range(4):
                d = np.array(ys[i]) - gt
                if q in error_abs:
                    d = np.abs(d)
                errs.append(d)
            draw(axe, errs, methods[:4])
            style_ax(axe, ri == 3, ci == 0, q, True)
        yc_main = 1 - (my0 + my1) / 2 / H
        yc_err = 1 - (ey0 + ey1) / 2 / H
        if gi == 0:
            fig.text(24 / W, yc_main + 6 / H, ylabels[q], rotation=90, ha="center", va="center",
                     fontsize=23, color=TXT)
            fig.text(27 / W, yc_err, "Error", rotation=90, ha="center", va="center",
                     fontsize=15.5, color=TXT)
        else:
            fig.text(611 / W, yc_main, ylabels[q], rotation=90, ha="center", va="center",
                     fontsize=21, color=TXT, family="Liberation Serif")

# column titles and x labels
for ci, (x0, x1) in enumerate(cols):
    xc = (x0 + x1) / 2
    sig = sigma_labels[ci % 2]
    fig.text(xc / W, 1 - 84 / H, r"$\sigma$ = " + sig, ha="center", va="center",
             fontsize=21, family="Liberation Serif", color=TXT)
    fig.text((xc - 36) / W, 1 - 975 / H, "\u03bb", ha="right", va="center", fontsize=17,
             family="Liberation Serif", style="italic", color=TXT)
    fig.text((xc - 37) / W, 1 - 975 / H, "\uff08nm\uff09", ha="left", va="center", fontsize=15,
             family=["Noto Sans CJK SC", "DejaVu Sans"], color=TXT)

# legend
handles = []
for name in methods:
    st = STY[name]
    h = Line2D([0], [0], color=st["color"], lw=st["lw"] + 0.4,
               marker=st["marker"] if st["marker"] else None, markersize=st["ms"] + 2,
               markeredgewidth=0)
    if st["dashes"] is not None:
        h.set_dashes(st["dashes"])
    handles.append(h)
leg = fig.legend(handles, methods, loc="upper right", bbox_to_anchor=(1141 / W, 1 - 9 / H),
                 ncol=5, frameon=True, fancybox=False, edgecolor="black", handlelength=1.75,
                 handletextpad=0.25, columnspacing=0.5, borderpad=0.2, borderaxespad=0.0,
                 numpoints=1, prop={"family": "Liberation Sans", "size": 20})
leg.get_frame().set_linewidth(1.6)

fig.savefig("out.png", dpi=100, facecolor="white")
